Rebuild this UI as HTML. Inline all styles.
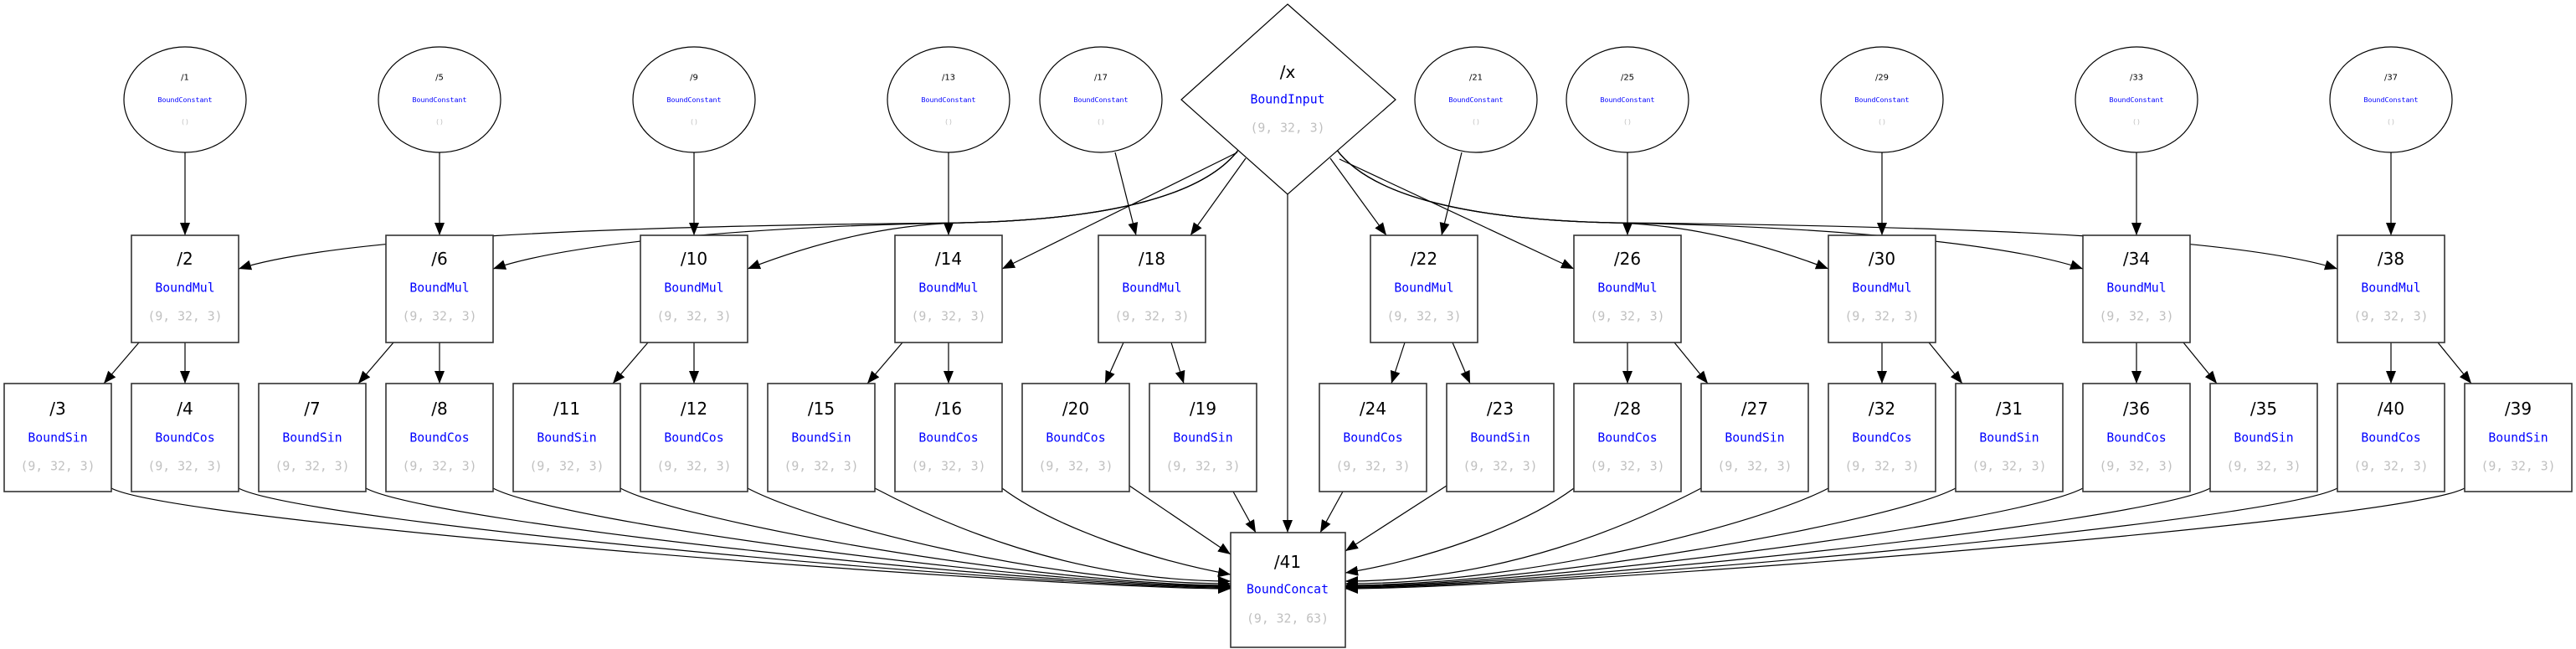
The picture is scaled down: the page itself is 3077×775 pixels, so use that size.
<!DOCTYPE html>
<html><head><meta charset="utf-8"><style>
html,body{margin:0;padding:0;background:#fff;}
svg{display:block}
.t{font-family:"DejaVu Sans","Liberation Sans",sans-serif;font-size:20px;fill:#000}
.b{font-family:"DejaVu Sans Mono","Liberation Mono",monospace;font-size:14.8px;fill:#0000ff}
.g{font-family:"DejaVu Sans Mono","Liberation Mono",monospace;font-size:14.8px;fill:#c0c0c0}
.et{font-family:"DejaVu Sans","Liberation Sans",sans-serif;font-size:10px;fill:#000}
.eb{font-family:"DejaVu Sans Mono","Liberation Mono",monospace;font-size:8.3px;fill:#0000ff}
.eg{font-family:"DejaVu Sans Mono","Liberation Mono",monospace;font-size:8.3px;fill:#c0c0c0}
text{text-anchor:middle;dominant-baseline:central}
.bx{fill:#fff;stroke:#333;stroke-width:1.6}
.el{fill:#fff;stroke:#000;stroke-width:1.2}
.e{fill:none;stroke:#000;stroke-width:1.2;marker-end:url(#a)}
</style></head><body>
<svg width="3077" height="775" viewBox="0 0 3077 775" xmlns="http://www.w3.org/2000/svg">
<defs><marker id="a" markerUnits="userSpaceOnUse" markerWidth="16" markerHeight="12" refX="15" refY="6" orient="auto"><path d="M0,0 L15,6 L0,12 z" fill="#000"/></marker></defs>

<path class="e" d="M221,182 L221,281"/>
<path class="e" d="M525,182 L525,281"/>
<path class="e" d="M829,182 L829,281"/>
<path class="e" d="M1133,182 L1133,281"/>
<path class="e" d="M1332,182 L1357,281"/>
<path class="e" d="M1746,182 L1722,281"/>
<path class="e" d="M1944,182 L1944,281"/>
<path class="e" d="M2248,182 L2248,281"/>
<path class="e" d="M2552,182 L2552,281"/>
<path class="e" d="M2856,182 L2856,281"/>

<path class="e" d="M1480,178 C1440,232 1330,262 1150,266 C700,270 400,285 285,321"/>
<path class="e" d="M1480,178 C1440,232 1330,262 1150,266 C900,270 680,290 589,321"/>
<path class="e" d="M1480,178 C1440,232 1330,262 1150,266 C1050,268 960,295 893,321"/>
<path class="e" d="M1478,182 L1197,321"/>
<path class="e" d="M1488,189 L1422,281"/>
<path class="e" d="M1589,189 L1656,281"/>
<path class="e" d="M1600,190 L1880,321"/>
<path class="e" d="M1596,178 C1636,232 1746,262 1926,266 C2026,268 2116,295 2184,321"/>
<path class="e" d="M1596,178 C1636,232 1746,262 1926,266 C2176,270 2396,290 2488,321"/>
<path class="e" d="M1596,178 C1636,232 1746,262 1926,266 C2376,270 2676,285 2792,321"/>
<path class="e" d="M1538,232 L1538,636"/>

<path class="e" d="M166,409 L124,458"/><path class="e" d="M221,409 L221,458"/>
<path class="e" d="M470,409 L428,458"/><path class="e" d="M525,409 L525,458"/>
<path class="e" d="M774,409 L732,458"/><path class="e" d="M829,409 L829,458"/>
<path class="e" d="M1078,409 L1036,458"/><path class="e" d="M1133,409 L1133,458"/>
<path class="e" d="M1342,409 L1320,458"/><path class="e" d="M1399,409 L1414,458"/>
<path class="e" d="M1678,409 L1662,458"/><path class="e" d="M1735,409 L1756,458"/>
<path class="e" d="M1944,409 L1944,458"/><path class="e" d="M2000,409 L2040,458"/>
<path class="e" d="M2248,409 L2248,458"/><path class="e" d="M2304,409 L2344,458"/>
<path class="e" d="M2552,409 L2552,458"/><path class="e" d="M2608,409 L2648,458"/>
<path class="e" d="M2856,409 L2856,458"/><path class="e" d="M2912,409 L2952,458"/>

<path class="e" d="M133,583 C213,625 1250,703 1470,703"/>
<path class="e" d="M285,583 C365,625 1250,702 1470,702"/>
<path class="e" d="M437,583 C517,625 1250,701 1470,701"/>
<path class="e" d="M589,583 C669,625 1250,700 1470,700"/>
<path class="e" d="M741,583 C821,625 1250,699 1470,699"/>
<path class="e" d="M893,583 C973,625 1250,697 1470,697"/>
<path class="e" d="M1045,583 C1125,625 1280,694 1470,694"/>
<path class="e" d="M1197,583 C1260,630 1380,670 1470,686"/>
<path class="e" d="M1349,580 L1470,662"/>
<path class="e" d="M1473,587 L1500,636"/>
<path class="e" d="M1604,587 L1577,636"/>
<path class="e" d="M1728,580 L1607,658"/>
<path class="e" d="M1880,583 C1817,630 1697,670 1607,684"/>
<path class="e" d="M2032,583 C1952,625 1797,694 1607,694"/>
<path class="e" d="M2184,583 C2104,625 1827,697 1607,697"/>
<path class="e" d="M2336,583 C2256,625 1827,699 1607,699"/>
<path class="e" d="M2488,583 C2408,625 1827,700 1607,700"/>
<path class="e" d="M2640,583 C2560,625 1827,701 1607,701"/>
<path class="e" d="M2792,583 C2712,625 1827,702 1607,702"/>
<path class="e" d="M2944,583 C2864,625 1827,703 1607,703"/>

<polygon class="el" points="1538,5 1667,119 1538,232 1411,119"/>
<text class="t" x="1538" y="86">/x</text>
<text class="b" x="1538" y="119">BoundInput</text>
<text class="g" x="1538" y="153">(9, 32, 3)</text>

<g>
<ellipse class="el" cx="221" cy="119" rx="73" ry="63"/><text class="et" x="221" y="93">/1</text><text class="eb" x="221" y="119">BoundConstant</text><text class="eg" x="221" y="145">()</text>
<ellipse class="el" cx="525" cy="119" rx="73" ry="63"/><text class="et" x="525" y="93">/5</text><text class="eb" x="525" y="119">BoundConstant</text><text class="eg" x="525" y="145">()</text>
<ellipse class="el" cx="829" cy="119" rx="73" ry="63"/><text class="et" x="829" y="93">/9</text><text class="eb" x="829" y="119">BoundConstant</text><text class="eg" x="829" y="145">()</text>
<ellipse class="el" cx="1133" cy="119" rx="73" ry="63"/><text class="et" x="1133" y="93">/13</text><text class="eb" x="1133" y="119">BoundConstant</text><text class="eg" x="1133" y="145">()</text>
<ellipse class="el" cx="1315" cy="119" rx="73" ry="63"/><text class="et" x="1315" y="93">/17</text><text class="eb" x="1315" y="119">BoundConstant</text><text class="eg" x="1315" y="145">()</text>
<ellipse class="el" cx="1763" cy="119" rx="73" ry="63"/><text class="et" x="1763" y="93">/21</text><text class="eb" x="1763" y="119">BoundConstant</text><text class="eg" x="1763" y="145">()</text>
<ellipse class="el" cx="1944" cy="119" rx="73" ry="63"/><text class="et" x="1944" y="93">/25</text><text class="eb" x="1944" y="119">BoundConstant</text><text class="eg" x="1944" y="145">()</text>
<ellipse class="el" cx="2248" cy="119" rx="73" ry="63"/><text class="et" x="2248" y="93">/29</text><text class="eb" x="2248" y="119">BoundConstant</text><text class="eg" x="2248" y="145">()</text>
<ellipse class="el" cx="2552" cy="119" rx="73" ry="63"/><text class="et" x="2552" y="93">/33</text><text class="eb" x="2552" y="119">BoundConstant</text><text class="eg" x="2552" y="145">()</text>
<ellipse class="el" cx="2856" cy="119" rx="73" ry="63"/><text class="et" x="2856" y="93">/37</text><text class="eb" x="2856" y="119">BoundConstant</text><text class="eg" x="2856" y="145">()</text>
</g>

<g>
<rect class="bx" x="157" y="281" width="128" height="128"/><text class="t" x="221" y="309">/2</text><text class="b" x="221" y="344">BoundMul</text><text class="g" x="221" y="378">(9, 32, 3)</text>
<rect class="bx" x="461" y="281" width="128" height="128"/><text class="t" x="525" y="309">/6</text><text class="b" x="525" y="344">BoundMul</text><text class="g" x="525" y="378">(9, 32, 3)</text>
<rect class="bx" x="765" y="281" width="128" height="128"/><text class="t" x="829" y="309">/10</text><text class="b" x="829" y="344">BoundMul</text><text class="g" x="829" y="378">(9, 32, 3)</text>
<rect class="bx" x="1069" y="281" width="128" height="128"/><text class="t" x="1133" y="309">/14</text><text class="b" x="1133" y="344">BoundMul</text><text class="g" x="1133" y="378">(9, 32, 3)</text>
<rect class="bx" x="1312" y="281" width="128" height="128"/><text class="t" x="1376" y="309">/18</text><text class="b" x="1376" y="344">BoundMul</text><text class="g" x="1376" y="378">(9, 32, 3)</text>
<rect class="bx" x="1637" y="281" width="128" height="128"/><text class="t" x="1701" y="309">/22</text><text class="b" x="1701" y="344">BoundMul</text><text class="g" x="1701" y="378">(9, 32, 3)</text>
<rect class="bx" x="1880" y="281" width="128" height="128"/><text class="t" x="1944" y="309">/26</text><text class="b" x="1944" y="344">BoundMul</text><text class="g" x="1944" y="378">(9, 32, 3)</text>
<rect class="bx" x="2184" y="281" width="128" height="128"/><text class="t" x="2248" y="309">/30</text><text class="b" x="2248" y="344">BoundMul</text><text class="g" x="2248" y="378">(9, 32, 3)</text>
<rect class="bx" x="2488" y="281" width="128" height="128"/><text class="t" x="2552" y="309">/34</text><text class="b" x="2552" y="344">BoundMul</text><text class="g" x="2552" y="378">(9, 32, 3)</text>
<rect class="bx" x="2792" y="281" width="128" height="128"/><text class="t" x="2856" y="309">/38</text><text class="b" x="2856" y="344">BoundMul</text><text class="g" x="2856" y="378">(9, 32, 3)</text>
</g>

<g>
<rect class="bx" x="5" y="458" width="128" height="129"/><text class="t" x="69" y="488">/3</text><text class="b" x="69" y="523">BoundSin</text><text class="g" x="69" y="557">(9, 32, 3)</text>
<rect class="bx" x="157" y="458" width="128" height="129"/><text class="t" x="221" y="488">/4</text><text class="b" x="221" y="523">BoundCos</text><text class="g" x="221" y="557">(9, 32, 3)</text>
<rect class="bx" x="309" y="458" width="128" height="129"/><text class="t" x="373" y="488">/7</text><text class="b" x="373" y="523">BoundSin</text><text class="g" x="373" y="557">(9, 32, 3)</text>
<rect class="bx" x="461" y="458" width="128" height="129"/><text class="t" x="525" y="488">/8</text><text class="b" x="525" y="523">BoundCos</text><text class="g" x="525" y="557">(9, 32, 3)</text>
<rect class="bx" x="613" y="458" width="128" height="129"/><text class="t" x="677" y="488">/11</text><text class="b" x="677" y="523">BoundSin</text><text class="g" x="677" y="557">(9, 32, 3)</text>
<rect class="bx" x="765" y="458" width="128" height="129"/><text class="t" x="829" y="488">/12</text><text class="b" x="829" y="523">BoundCos</text><text class="g" x="829" y="557">(9, 32, 3)</text>
<rect class="bx" x="917" y="458" width="128" height="129"/><text class="t" x="981" y="488">/15</text><text class="b" x="981" y="523">BoundSin</text><text class="g" x="981" y="557">(9, 32, 3)</text>
<rect class="bx" x="1069" y="458" width="128" height="129"/><text class="t" x="1133" y="488">/16</text><text class="b" x="1133" y="523">BoundCos</text><text class="g" x="1133" y="557">(9, 32, 3)</text>
<rect class="bx" x="1221" y="458" width="128" height="129"/><text class="t" x="1285" y="488">/20</text><text class="b" x="1285" y="523">BoundCos</text><text class="g" x="1285" y="557">(9, 32, 3)</text>
<rect class="bx" x="1373" y="458" width="128" height="129"/><text class="t" x="1437" y="488">/19</text><text class="b" x="1437" y="523">BoundSin</text><text class="g" x="1437" y="557">(9, 32, 3)</text>
<rect class="bx" x="1576" y="458" width="128" height="129"/><text class="t" x="1640" y="488">/24</text><text class="b" x="1640" y="523">BoundCos</text><text class="g" x="1640" y="557">(9, 32, 3)</text>
<rect class="bx" x="1728" y="458" width="128" height="129"/><text class="t" x="1792" y="488">/23</text><text class="b" x="1792" y="523">BoundSin</text><text class="g" x="1792" y="557">(9, 32, 3)</text>
<rect class="bx" x="1880" y="458" width="128" height="129"/><text class="t" x="1944" y="488">/28</text><text class="b" x="1944" y="523">BoundCos</text><text class="g" x="1944" y="557">(9, 32, 3)</text>
<rect class="bx" x="2032" y="458" width="128" height="129"/><text class="t" x="2096" y="488">/27</text><text class="b" x="2096" y="523">BoundSin</text><text class="g" x="2096" y="557">(9, 32, 3)</text>
<rect class="bx" x="2184" y="458" width="128" height="129"/><text class="t" x="2248" y="488">/32</text><text class="b" x="2248" y="523">BoundCos</text><text class="g" x="2248" y="557">(9, 32, 3)</text>
<rect class="bx" x="2336" y="458" width="128" height="129"/><text class="t" x="2400" y="488">/31</text><text class="b" x="2400" y="523">BoundSin</text><text class="g" x="2400" y="557">(9, 32, 3)</text>
<rect class="bx" x="2488" y="458" width="128" height="129"/><text class="t" x="2552" y="488">/36</text><text class="b" x="2552" y="523">BoundCos</text><text class="g" x="2552" y="557">(9, 32, 3)</text>
<rect class="bx" x="2640" y="458" width="128" height="129"/><text class="t" x="2704" y="488">/35</text><text class="b" x="2704" y="523">BoundSin</text><text class="g" x="2704" y="557">(9, 32, 3)</text>
<rect class="bx" x="2792" y="458" width="128" height="129"/><text class="t" x="2856" y="488">/40</text><text class="b" x="2856" y="523">BoundCos</text><text class="g" x="2856" y="557">(9, 32, 3)</text>
<rect class="bx" x="2944" y="458" width="128" height="129"/><text class="t" x="3008" y="488">/39</text><text class="b" x="3008" y="523">BoundSin</text><text class="g" x="3008" y="557">(9, 32, 3)</text>
</g>

<rect class="bx" x="1470" y="636" width="137" height="137"/>
<text class="t" x="1538" y="671">/41</text>
<text class="b" x="1538" y="704">BoundConcat</text>
<text class="g" x="1538" y="739">(9, 32, 63)</text>
</svg>
</body></html>
